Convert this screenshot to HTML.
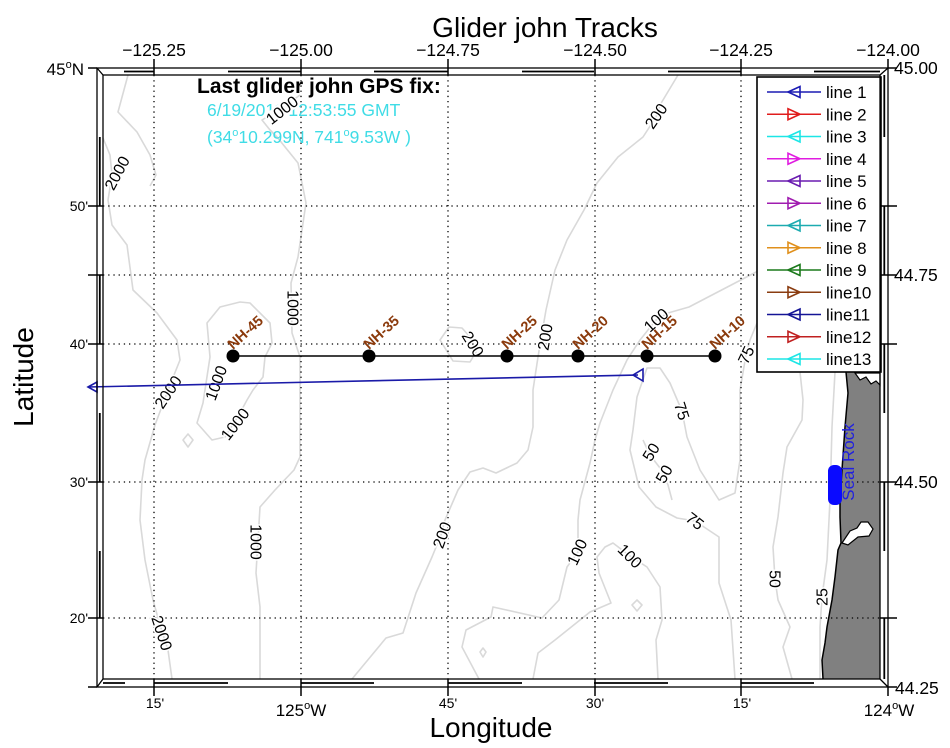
<!DOCTYPE html>
<html>
<head>
<meta charset="utf-8">
<style>
  html,body{margin:0;padding:0;background:#fff;}
  svg{display:block;}
  text{font-family:"Liberation Sans",Arial,sans-serif;}
</style>
</head>
<body>
<svg width="950" height="748" viewBox="0 0 950 748" xmlns="http://www.w3.org/2000/svg">
<rect x="0" y="0" width="950" height="748" fill="#fff"/>

<!-- contours -->
<g fill="none" stroke="#d9d9d9" stroke-width="1.6" stroke-linejoin="round">
  <path d="M128,75 L118,112 L137,132 L150,155 L156,175 L150,186"/>
  <path d="M103,138 L110,155 L112,175 L108,200 L112,225 L127,245 L133,290 L157,313 L177,340 L180,360 L170,385 L155,425 L145,460 L142,480 L140,520 L145,560 L153,600 L160,625 L168,650 L172,679"/>
  <path d="M300,95 L282,108 L262,120 L270,130 L277,137 L298,163 L306,203 L298,257 L291,283 L292,333 L300,357 L300,400 L300,457 L294,470 L275,490 L260,507 L256,573 L260,607 L260,679"/>
  <path d="M240,302 L250,303 L270,323 L272,343 L265,357 L263,377 L253,390 L247,400 L240,413 L225,437 L212,440 L197,423 L203,403 L210,357 L207,323 L220,307 Z"/>
  <path d="M188,434 L193,440 L188,447 L183,440 Z"/>
  <path d="M678,75 L660,105 L656,117 L643,137 L618,157 L597,183 L584,210 L567,240 L555,270 L546,310 L542,333 L538,357 L533,390 L533,427 L528,450 L517,463 L496,473 L483,468 L470,472 L458,490 L445,520 L441,535 L432,557 L416,593 L403,633 L386,638 L352,679"/>
  <path d="M449,327 L462,328 L470,337 L476,352 L470,362 L453,361 L440,340 Z"/>
  <path d="M760,270 L689,307 L668,313 L656,320 L640,340 L627,360 L613,390 L600,423 L595,440 L590,463 L580,500 L578,520 L578,552 L567,567 L559,600 L542,618 L493,607 L491,617 L466,630 L462,647 L479,679"/>
  <path d="M533,679 L538,653 L555,640 L590,612 L611,603 L599,573 L597,557 L605,547 L613,543 L630,556 L647,567 L660,587 L662,620 L656,640 L658,679"/>
  <path d="M483,648 L486,652 L483,657 L480,652 Z"/>
  <path d="M637,600 L642,605 L637,611 L632,605 Z"/>
  <path d="M757,323 L750,340 L746,355 L740,390 L740,430 L740,460 L735,493 L719,500 L700,470 L687,437 L682,411 L670,383 L660,368 L647,368 L637,397 L633,430 L630,450 L639,487 L656,507 L677,518 L695,521 L719,537 L719,583 L731,620 L735,679"/>
  <path d="M643,440 L650,455 L660,468 L668,485 L672,500"/>
  <path d="M800,372 L803,400 L802,420 L787,447 L783,473 L778,517 L773,547 L775,579 L778,600 L790,627 L783,647 L792,679"/>
  <path d="M835,372 L832,427 L830,500 L827,560 L822,597 L820,627 L820,679"/>
</g>

<!-- land -->
<path d="M846,372 L848,393 L845,427 L842,470 L840,500 L840,517 L841,543 L838,550 L835,577 L832,600 L827,627 L825,643 L822,660 L823,679 L880,679 L880,372 Z" fill="#808080"/>
<path d="M846,372 L848,393 L845,427 L842,470 L840,500 L840,517 L841,543 L838,550 L835,577 L832,600 L827,627 L825,643 L822,660 L823,679" fill="none" stroke="#000" stroke-width="1.5"/>
<path d="M855,373 L860,380 L866,377 L871,384 L876,381 L880,385 L880,373 Z" fill="#fff" stroke="#000" stroke-width="1.2"/>
<path d="M842,543 L850,531 L857,528 L861,522 L868,522 L873,529 L869,536 L858,537 L848,545 Z" fill="#fff" stroke="#000" stroke-width="1.2"/>

<!-- grid -->
<g stroke="#000" stroke-width="1.3" stroke-dasharray="1.3 3.9" fill="none">
  <line x1="154" y1="75" x2="154" y2="679"/>
  <line x1="301" y1="75" x2="301" y2="679"/>
  <line x1="448" y1="75" x2="448" y2="679"/>
  <line x1="595" y1="75" x2="595" y2="679"/>
  <line x1="741" y1="75" x2="741" y2="679"/>
  <line x1="103" y1="206" x2="880" y2="206"/>
  <line x1="103" y1="275" x2="880" y2="275"/>
  <line x1="103" y1="344" x2="880" y2="344"/>
  <line x1="103" y1="482" x2="880" y2="482"/>
  <line x1="103" y1="618" x2="880" y2="618"/>
</g>

<!-- Seal Rock -->
<rect x="828" y="465" width="14" height="40" rx="6" fill="#0a0aff"/>
<text transform="translate(854,462) rotate(-90)" text-anchor="middle" font-size="17" fill="#2020e0">Seal Rock</text>

<!-- contour labels -->
<g font-size="16" fill="#000" text-anchor="middle" stroke="#fff" stroke-width="3" paint-order="stroke">
  <text transform="translate(117,173) rotate(-62)" dy="0.35em">2000</text>
  <text transform="translate(293,308) rotate(90)" dy="0.35em">1000</text>
  <text transform="translate(168,392) rotate(-56)" dy="0.35em">2000</text>
  <text transform="translate(216,383) rotate(-70)" dy="0.35em">1000</text>
  <text transform="translate(235,424) rotate(-52)" dy="0.35em">1000</text>
  <text transform="translate(473,344) rotate(58)" dy="0.35em">200</text>
  <text transform="translate(545,337) rotate(-80)" dy="0.35em">200</text>
  <text transform="translate(656,116) rotate(-55)" dy="0.35em">200</text>
  <text transform="translate(656,320) rotate(-42)" dy="0.35em">100</text>
  <text transform="translate(746,355) rotate(-65)" dy="0.35em">75</text>
  <text transform="translate(682,411) rotate(72)" dy="0.35em">75</text>
  <text transform="translate(651,452) rotate(-58)" dy="0.35em">50</text>
  <text transform="translate(664,474) rotate(-60)" dy="0.35em">50</text>
  <text transform="translate(695,521) rotate(38)" dy="0.35em">75</text>
  <text transform="translate(256,542) rotate(90)" dy="0.35em">1000</text>
  <text transform="translate(442,535) rotate(-70)" dy="0.35em">200</text>
  <text transform="translate(577,552) rotate(-65)" dy="0.35em">100</text>
  <text transform="translate(630,556) rotate(45)" dy="0.35em">100</text>
  <text transform="translate(162,633) rotate(72)" dy="0.35em">2000</text>
  <text transform="translate(775,579) rotate(90)" dy="0.35em">50</text>
  <text transform="translate(822,597) rotate(-90)" dy="0.35em">25</text>
</g>

<!-- NH line -->
<line x1="233" y1="356" x2="715" y2="356" stroke="#000" stroke-width="1.6"/>
<g fill="#000">
  <circle cx="233" cy="356" r="6.5"/>
  <circle cx="369" cy="356" r="6.5"/>
  <circle cx="507" cy="356" r="6.5"/>
  <circle cx="578" cy="356" r="6.5"/>
  <circle cx="647" cy="356" r="6.5"/>
  <circle cx="715" cy="356" r="6.5"/>
</g>
<g font-size="14.5" font-weight="bold" fill="#8b3a0c">
  <text transform="translate(233,350) rotate(-42)">NH-45</text>
  <text transform="translate(369,350) rotate(-42)">NH-35</text>
  <text transform="translate(507,350) rotate(-42)">NH-25</text>
  <text transform="translate(578,350) rotate(-42)">NH-20</text>
  <text transform="translate(647,350) rotate(-42)">NH-15</text>
  <text transform="translate(715,350) rotate(-42)">NH-10</text>
</g>

<!-- blue track -->
<g stroke="#1a1aa8" stroke-width="1.6" fill="none">
  <line x1="88" y1="387" x2="638" y2="375"/>
  <polygon points="88,387 97,382 97,392"/>
  <polygon points="633,375 643,369 643,381"/>
</g>

<!-- GPS fix text -->
<text x="197" y="93" font-size="21" font-weight="bold" fill="#000">Last glider john GPS fix:</text>
<text x="207" y="116" font-size="17.5" fill="#40dce6">6/19/2011 12:53:55 GMT</text>
<text x="207" y="143" font-size="17.5" fill="#40dce6">(34<tspan font-size="11" dy="-7">o</tspan><tspan dy="7">10.299N, 741</tspan><tspan font-size="11" dy="-7">o</tspan><tspan dy="7">9.53W )</tspan></text>
<g transform="translate(282,110) rotate(-38)">
  <rect x="-18" y="-7" width="36" height="14" fill="#fff"/>
  <text text-anchor="middle" dy="0.35em" font-size="16" fill="#000">1000</text>
</g>

<!-- legend -->
<rect x="757" y="77" width="124" height="295" fill="#fff" stroke="#000" stroke-width="1.6"/>
<g stroke-width="1.6" fill="none">
  <g stroke="#1c1cb4"><line x1="767" y1="92" x2="821" y2="92"/><polygon points="788,92 800,86.5 800,97.5"/></g>
  <g stroke="#e01c1c"><line x1="767" y1="114.25" x2="821" y2="114.25"/><polygon points="800,114.25 788,108.75 788,119.75"/></g>
  <g stroke="#1ce6e6"><line x1="767" y1="136.5" x2="821" y2="136.5"/><polygon points="788,136.5 800,131 800,142"/></g>
  <g stroke="#e01ce0"><line x1="767" y1="158.75" x2="821" y2="158.75"/><polygon points="800,158.75 788,153.25 788,164.25"/></g>
  <g stroke="#6a1cb0"><line x1="767" y1="181" x2="821" y2="181"/><polygon points="788,181 800,175.5 800,186.5"/></g>
  <g stroke="#a01cb0"><line x1="767" y1="203.25" x2="821" y2="203.25"/><polygon points="800,203.25 788,197.75 788,208.75"/></g>
  <g stroke="#1cabb0"><line x1="767" y1="225.5" x2="821" y2="225.5"/><polygon points="788,225.5 800,220 800,231"/></g>
  <g stroke="#e0901c"><line x1="767" y1="247.75" x2="821" y2="247.75"/><polygon points="800,247.75 788,242.25 788,253.25"/></g>
  <g stroke="#1c7a1c"><line x1="767" y1="270" x2="821" y2="270"/><polygon points="788,270 800,264.5 800,275.5"/></g>
  <g stroke="#8a3c10"><line x1="767" y1="292.25" x2="821" y2="292.25"/><polygon points="800,292.25 788,286.75 788,297.75"/></g>
  <g stroke="#141496"><line x1="767" y1="314.5" x2="821" y2="314.5"/><polygon points="788,314.5 800,309 800,320"/></g>
  <g stroke="#c02020"><line x1="767" y1="336.75" x2="821" y2="336.75"/><polygon points="800,336.75 788,331.25 788,342.25"/></g>
  <g stroke="#1ce6e6"><line x1="767" y1="359" x2="821" y2="359"/><polygon points="788,359 800,353.5 800,364.5"/></g>
</g>
<g font-size="17" fill="#000">
  <text x="826" y="98">line 1</text>
  <text x="826" y="120.25">line 2</text>
  <text x="826" y="142.5">line 3</text>
  <text x="826" y="164.75">line 4</text>
  <text x="826" y="187">line 5</text>
  <text x="826" y="209.25">line 6</text>
  <text x="826" y="231.5">line 7</text>
  <text x="826" y="253.75">line 8</text>
  <text x="826" y="276">line 9</text>
  <text x="826" y="298.25">line10</text>
  <text x="826" y="320.5">line11</text>
  <text x="826" y="342.75">line12</text>
  <text x="826" y="365">line13</text>
</g>

<!-- frame -->
<g stroke="#000" stroke-width="1.3" fill="none">
  <rect x="97" y="68" width="791" height="619"/>
  <rect x="103" y="75" width="777" height="604"/>
  <path d="M97,68 L103,75 M888,68 L880,75 M97,687 L103,679 M888,687 L880,679"/>
</g>
<g stroke="#000" stroke-width="1.8" fill="none">
  <path d="M124,71.5 H154 M228,71.5 H301 M374,71.5 H448 M522,71.5 H594 M668,71.5 H741 M814,71.5 H880"/>
  <path d="M103,683 H125 M154,683 H228 M301,683 H374 M448,683 H522 M594,683 H668 M741,683 H814"/>
  <path d="M99.8,137 V206 M99.8,275 V344 M99.8,413 V482 M99.8,551 V618"/>
  <path d="M884.3,75 V137 M884.3,206 V275 M884.3,344 V413 M884.3,482 V551 M884.3,618 V679"/>
</g>
<!-- ticks -->
<g stroke="#000" stroke-width="1.5">
  <path d="M154,59 V75 M301,59 V75 M448,59 V75 M595,59 V75 M741,59 V75 M888,59 V68"/>
  <path d="M154,679 V696 M301,679 V696 M448,679 V696 M595,679 V696 M741,679 V696 M888,687 V696"/>
  <path d="M88,68 H97 M88,206 H103 M88,275 H103 M88,344 H103 M88,482 H103 M88,618 H103 M88,687 H97"/>
  <path d="M880,206 H897 M880,275 H897 M880,344 H897 M880,482 H897 M880,618 H897 M888,68 H897 M888,687 H897"/>
</g>

<!-- axis tick labels -->
<g font-size="17.5" fill="#000" text-anchor="middle">
  <text x="154" y="56">−125.25</text>
  <text x="301" y="56">−125.00</text>
  <text x="448" y="56">−124.75</text>
  <text x="595" y="56">−124.50</text>
  <text x="741" y="56">−124.25</text>
  <text x="888" y="56">−124.00</text>
</g>
<g font-size="17.5" fill="#000">
  <text x="894" y="74">45.00</text>
  <text x="894" y="281">44.75</text>
  <text x="894" y="488">44.50</text>
  <text x="895" y="694">44.25</text>
</g>
<g font-size="14" fill="#000" text-anchor="end">
  <text x="88" y="211">50'</text>
  <text x="88" y="349">40'</text>
  <text x="88" y="487">30'</text>
  <text x="88" y="623">20'</text>
</g>
<text x="84" y="75" font-size="17" fill="#000" text-anchor="end">45<tspan font-size="11" dy="-7">o</tspan><tspan dy="7">N</tspan></text>
<g font-size="14" fill="#000" text-anchor="middle">
  <text x="155" y="708">15'</text>
  <text x="448" y="708">45'</text>
  <text x="595" y="708">30'</text>
  <text x="742" y="708">15'</text>
</g>
<g font-size="17" fill="#000" text-anchor="middle">
  <text x="301" y="716">125<tspan font-size="11" dy="-7">o</tspan><tspan dy="7">W</tspan></text>
  <text x="889" y="716">124<tspan font-size="11" dy="-7">o</tspan><tspan dy="7">W</tspan></text>
</g>

<!-- titles -->
<text x="545" y="37" font-size="28" fill="#000" text-anchor="middle">Glider john Tracks</text>
<text x="491" y="737" font-size="28" fill="#000" text-anchor="middle">Longitude</text>
<text transform="translate(33,377) rotate(-90)" font-size="28" fill="#000" text-anchor="middle">Latitude</text>
</svg>
</body>
</html>
